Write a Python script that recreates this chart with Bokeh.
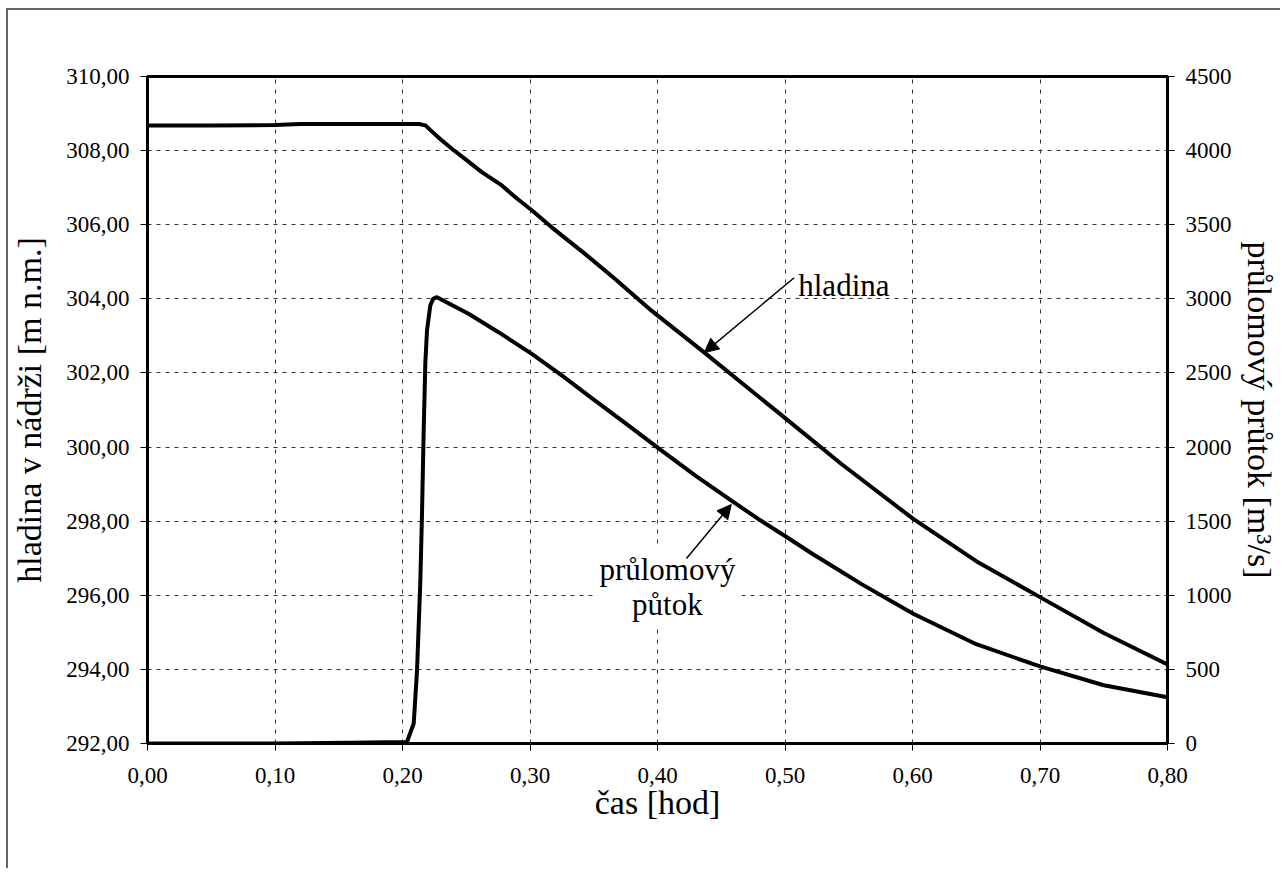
from bokeh.plotting import figure
from bokeh.models import (Range1d, LinearAxis, FixedTicker, CustomJSTickFormatter,
                          Arrow, NormalHead, Label)
from bokeh.embed import file_html
from bokeh.resources import INLINE

# --- data -------------------------------------------------------------------
# water level in reservoir [m n.m.] (left axis)
t_hladina = [0.0, 0.05, 0.10, 0.12, 0.16, 0.205, 0.213, 0.218, 0.2223, 0.230,
             0.2387, 0.250, 0.2622, 0.2779, 0.290, 0.3014, 0.317, 0.3429, 0.3663,
             0.3953, 0.4368, 0.4994, 0.544, 0.6006, 0.65, 0.70, 0.75, 0.80]
hladina = [308.68, 308.68, 308.69, 308.72, 308.72, 308.72, 308.72, 308.68, 308.54,
           308.30, 308.05, 307.75, 307.42, 307.06, 306.70, 306.39, 305.93, 305.22,
           304.55, 303.68, 302.55, 300.80, 299.55, 298.06, 296.92, 295.95, 294.98,
           294.13]

# breach outflow [m3/s] (right axis)
t_prutok = [0.0, 0.10, 0.16, 0.2035, 0.2088, 0.2114, 0.2140, 0.2153, 0.2166, 0.2179,
            0.2192, 0.2218, 0.2240, 0.2270, 0.2518, 0.2753, 0.3014, 0.3249, 0.35,
            0.375, 0.403, 0.43, 0.458, 0.479, 0.50, 0.522, 0.544, 0.5597, 0.6006,
            0.65, 0.70, 0.75, 0.80]
prutok = [0, 0, 5, 10, 135, 493, 1100, 1552, 2112, 2564, 2786, 2955, 3000, 3011,
          2899, 2775, 2629, 2483, 2320, 2160, 1977, 1805, 1638, 1515, 1400, 1277,
          1160, 1077, 875, 670, 520, 393, 312]

x_ticks = [0.0, 0.1, 0.2, 0.3, 0.4, 0.5, 0.6, 0.7, 0.8]
y_ticks = [292, 294, 296, 298, 300, 302, 304, 306, 308, 310]
q_ticks = [0, 500, 1000, 1500, 2000, 2500, 3000, 3500, 4000, 4500]

x_title = "čas [hod]"
y_title = "hladina v nádrži [m n.m.]"
q_title = "průlomový průtok [m³/s]"
label_h = "hladina"
label_q = "průlomový\npůtok"

FONT = "'Liberation Serif', 'Times New Roman', 'DejaVu Serif', serif"

p = figure(width=1274, height=860, output_backend="svg", toolbar_location=None,
           x_range=Range1d(0, 0.8), y_range=Range1d(292, 310),
           min_border_left=137, min_border_right=115, min_border_top=66,
           min_border_bottom=127)
p.styles = {"border-left": "2px solid #666", "border-top": "2px solid #666",
            "margin-left": "6px", "margin-top": "8px"}
p.extra_y_ranges = {"q": Range1d(0, 4500)}

p.background_fill_color = "white"
p.border_fill_color = "white"
p.outline_line_color = "black"
p.outline_line_width = 3

fmt2 = CustomJSTickFormatter(code="return tick.toFixed(2).replace('.', ',');")

# bottom axis
xa = p.xaxis[0]
xa.ticker = FixedTicker(ticks=x_ticks)
xa.formatter = fmt2
xa.axis_label = x_title

# left axis
ya = p.yaxis[0]
ya.ticker = FixedTicker(ticks=y_ticks)
ya.formatter = fmt2
ya.axis_label = y_title

# right axis
qa = LinearAxis(y_range_name="q", ticker=FixedTicker(ticks=q_ticks), axis_label=q_title)
p.add_layout(qa, "right")

for ax in (xa, ya, qa):
    ax.axis_line_color = "black"
    ax.axis_line_width = 3
    ax.major_tick_line_color = "black"
    ax.major_tick_line_width = 1
    ax.major_tick_out = 7
    ax.major_tick_in = 0
    ax.minor_tick_out = 0
    ax.minor_tick_in = 0
    ax.major_label_text_font = FONT
    ax.major_label_text_font_size = "23px"
    ax.major_label_text_color = "black"
    ax.axis_label_text_font = FONT
    ax.axis_label_text_font_size = "34px"
    ax.axis_label_text_font_style = "normal"
    ax.axis_label_text_color = "black"
    ax.major_label_standoff = 11

xa.major_label_standoff = 17
xa.axis_label_standoff = -2
ya.axis_label_standoff = 15
qa.axis_label_standoff = 6

p.xgrid.grid_line_color = "#333333"
p.xgrid.grid_line_dash = "4 6"
p.xgrid.grid_line_width = 1
p.ygrid.grid_line_color = "#333333"
p.ygrid.grid_line_dash = "4 5"
p.ygrid.grid_line_width = 1

p.line(t_hladina, hladina, line_color="black", line_width=4, line_join="round")
p.line(t_prutok, prutok, line_color="black", line_width=4, line_join="round",
       y_range_name="q")

# annotations
p.add_layout(Arrow(x_start=0.5072, y_start=304.57, x_end=0.4368, y_end=302.55,
                   line_color="black", line_width=1.5,
                   end=NormalHead(size=14, fill_color="black", line_color="black")))
p.add_layout(Label(x=0.5104, y=304.36, text=label_h, text_font=FONT,
                   text_font_size="31px", text_color="black", text_align="left",
                   text_baseline="alphabetic"))

p.add_layout(Label(x=0.4078, y=297.32, text=label_q, text_font=FONT,
                   text_font_size="31px", text_color="black", text_align="center",
                   text_baseline="top", text_line_height=1.0,
                   background_fill_color="white", padding=6))
p.add_layout(Arrow(x_start=0.4227, y_start=296.99, x_end=0.4579, y_end=298.45,
                   line_color="black", line_width=1.5,
                   end=NormalHead(size=14, fill_color="black", line_color="black")))

open("out.html", "w").write(file_html(p, INLINE))
